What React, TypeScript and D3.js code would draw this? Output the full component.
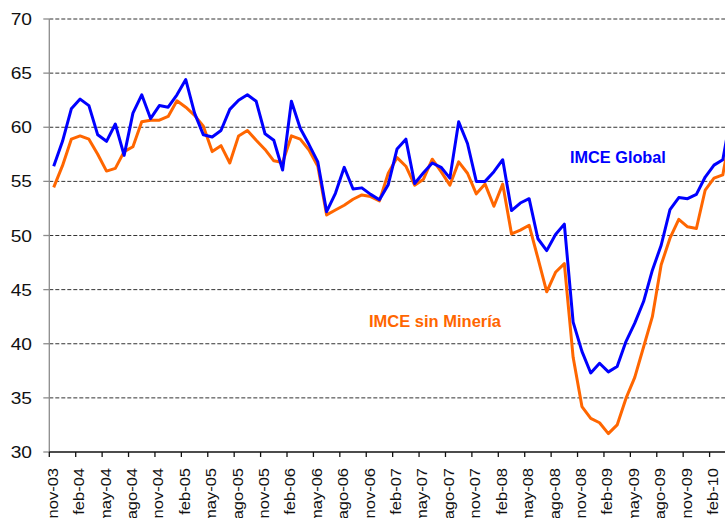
import React from "react";
import * as d3 from "d3";

const months = [
  "nov-03","dic-03","ene-04","feb-04","mar-04","abr-04","may-04","jun-04","jul-04","ago-04","sep-04","oct-04",
  "nov-04","dic-04","ene-05","feb-05","mar-05","abr-05","may-05","jun-05","jul-05","ago-05","sep-05","oct-05",
  "nov-05","dic-05","ene-06","feb-06","mar-06","abr-06","may-06","jun-06","jul-06","ago-06","sep-06","oct-06",
  "nov-06","dic-06","ene-07","feb-07","mar-07","abr-07","may-07","jun-07","jul-07","ago-07","sep-07","oct-07",
  "nov-07","dic-07","ene-08","feb-08","mar-08","abr-08","may-08","jun-08","jul-08","ago-08","sep-08","oct-08",
  "nov-08","dic-08","ene-09","feb-09","mar-09","abr-09","may-09","jun-09","jul-09","ago-09","sep-09","oct-09",
  "nov-09","dic-09","ene-10","feb-10","mar-10","abr-10"
];

const imceGlobal = [
  56.4, 58.7, 61.7, 62.6, 62.0, 59.3, 58.7, 60.3, 57.4, 61.3, 63.0, 60.8,
  62.0, 61.85, 63.0, 64.4, 61.3, 59.3, 59.1, 59.7, 61.65, 62.5, 63.0, 62.4,
  59.4, 58.8, 56.05, 62.4, 59.9, 58.4, 56.8, 52.2, 53.9, 56.3, 54.3, 54.4,
  53.8, 53.3, 54.7, 58.0, 58.9, 54.8, 55.8, 56.7, 56.3, 55.3, 60.5, 58.5,
  55.0, 55.0, 55.9, 57.0, 52.3, 53.0, 53.4, 49.7, 48.6, 50.1, 51.05, 42.0,
  39.3, 37.3, 38.2, 37.4, 37.9, 40.2, 41.9, 43.9, 46.8, 49.1, 52.4, 53.5,
  53.4, 53.8, 55.4, 56.5, 57.0, 61.5
];

const imceSinMineria = [
  54.45, 56.45, 58.9, 59.2, 58.9, 57.5, 55.95, 56.2, 57.75, 58.2, 60.5, 60.65,
  60.65, 61.0, 62.45, 61.85, 61.1, 60.1, 57.75, 58.3, 56.7, 59.2, 59.7, 58.8,
  57.95, 56.9, 56.75, 59.2, 58.9, 57.9, 56.4, 51.9, 52.35, 52.8, 53.35, 53.75,
  53.6, 53.2, 55.75, 57.2, 56.4, 54.65, 55.2, 57.05, 55.9, 54.65, 56.8, 55.75,
  53.85, 54.75, 52.7, 54.75, 50.15, 50.5, 50.95, 47.9, 44.8, 46.6, 47.4, 38.75,
  34.2, 33.1, 32.7, 31.7, 32.5, 34.95, 36.9, 39.7, 42.5, 47.3, 49.75, 51.5,
  50.8, 50.65, 54.2, 55.3, 55.6, 60.0
];

const yTicks = [30, 35, 40, 45, 50, 55, 60, 65, 70];
const labelEvery = 3;

const W = 725;
const H = 518;
const left = 49.3;
const step = 8.804;
const top = 19;
const bottom = 452;
const FONT = "'Liberation Sans', Arial, sans-serif";

export default function App() {
  const x = d3
    .scaleBand<string>()
    .domain(months)
    .range([left, left + step * months.length])
    .paddingInner(0)
    .paddingOuter(0);
  const y = d3.scaleLinear().domain([30, 70]).range([bottom, top]);
  const cx = (i: number) => (x(months[i]) as number) + x.bandwidth() / 2;

  const line = d3
    .line<number>()
    .x((_, i) => cx(i))
    .y((d) => y(d));

  const tickIdx = months.map((_, i) => i).filter((i) => i % labelEvery === 0);

  return (
    <svg
      width={W}
      height={H}
      style={{ position: "absolute", left: 0, top: 0, background: "#fff" }}
    >
      {yTicks
        .filter((t) => t > 30)
        .map((t) => (
          <line
            key={t}
            x1={left}
            x2={W}
            y1={y(t)}
            y2={y(t)}
            stroke="#333"
            strokeWidth={1}
            strokeDasharray="4,2"
          />
        ))}
      <line x1={left} x2={left} y1={top} y2={bottom} stroke="#8c8c8c" strokeWidth={1.3} />
      {yTicks.map((t) => (
        <g key={"yt" + t}>
          <line x1={left - 6} x2={left} y1={y(t)} y2={y(t)} stroke="#8c8c8c" strokeWidth={1.3} />
          <text
            transform={`translate(32,${y(t) + 6}) scale(1.2,1)`}
            textAnchor="end"
            fontFamily={FONT}
            fontSize={16}
            fill="#111"
          >
            {t}
          </text>
        </g>
      ))}
      <line x1={left} x2={W} y1={bottom} y2={bottom} stroke="#111" strokeWidth={1.3} />
      {tickIdx.map((i) => (
        <g key={"xt" + i}>
          <line
            x1={x(months[i]) as number}
            x2={x(months[i]) as number}
            y1={bottom}
            y2={bottom + 5}
            stroke="#111"
            strokeWidth={1.3}
          />
          <text
            transform={`translate(${cx(i) + 4},${bottom + 16}) rotate(-90) scale(1.1,1)`}
            textAnchor="end"
            fontFamily={FONT}
            fontSize={15}
            fill="#111"
          >
            {months[i]}
          </text>
        </g>
      ))}
      <path d={line(imceSinMineria) || ""} fill="none" stroke="#FF6600" strokeWidth={3} strokeLinejoin="round" />
      <path d={line(imceGlobal) || ""} fill="none" stroke="#0000FF" strokeWidth={3} strokeLinejoin="round" />
      <text x={570} y={163} fontFamily={FONT} fontSize={16.3} fontWeight="bold" fill="#0000FF">
        IMCE Global
      </text>
      <text x={369} y={327.3} fontFamily={FONT} fontSize={16.5} fontWeight="bold" fill="#FF6600">
        IMCE sin Minería
      </text>
    </svg>
  );
}
